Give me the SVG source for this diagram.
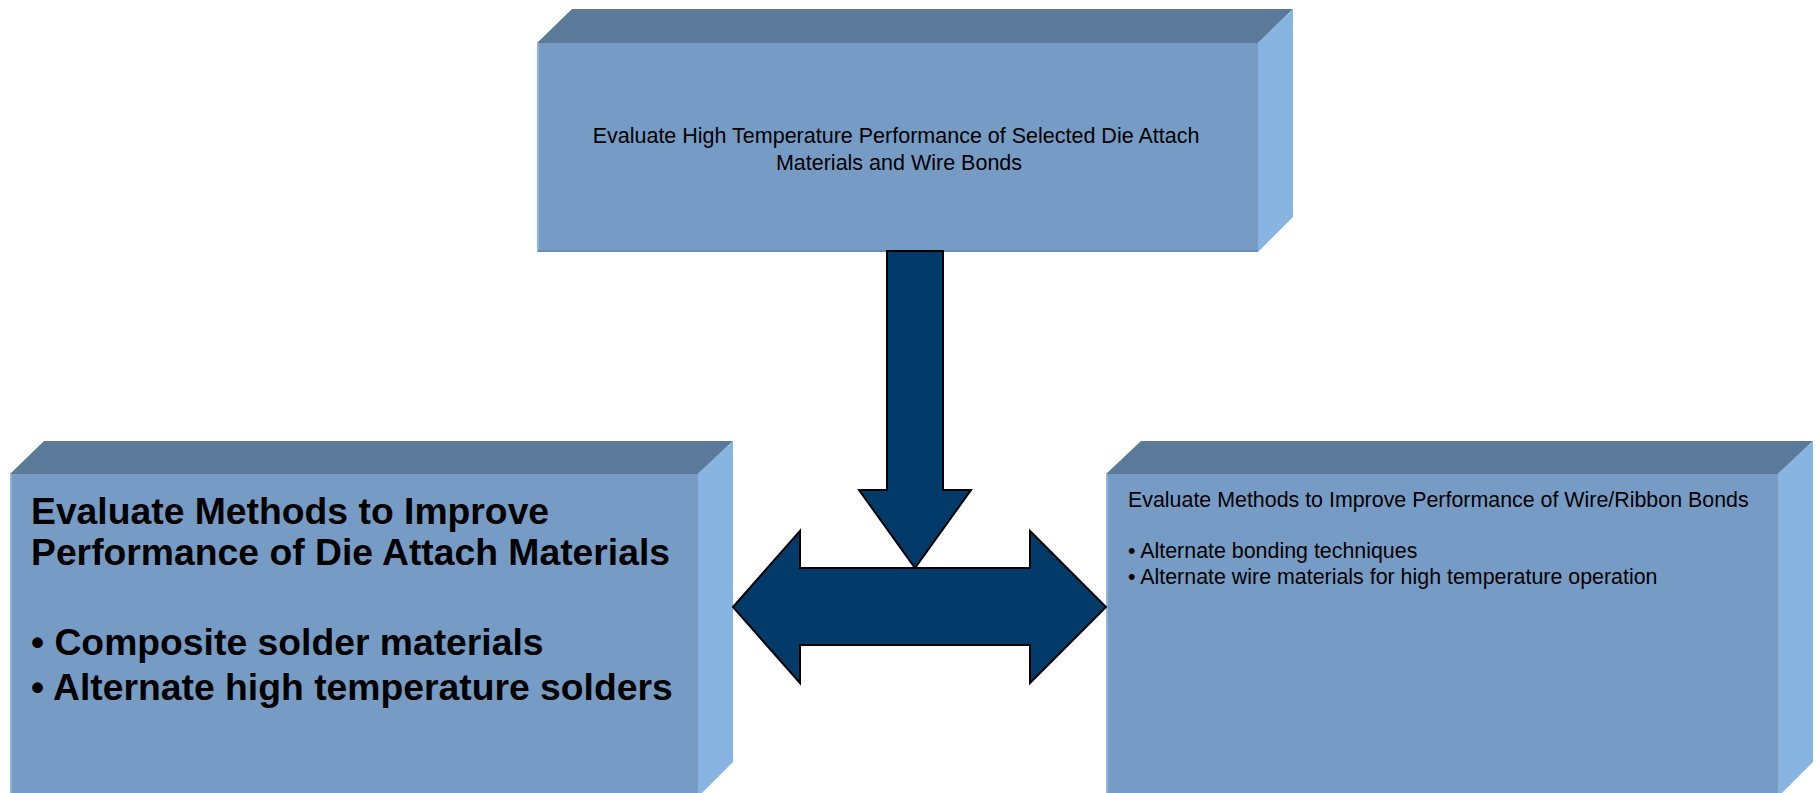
<svg xmlns="http://www.w3.org/2000/svg" width="1820" height="793" viewBox="0 0 1820 793">
  <style>
    .front { fill: #769CC6; }
    .top { fill: #5B7A9A; }
    .side { fill: #88B4E2; }
    .edgeL { stroke: #8DB5DF; stroke-width: 2; }
    .edgeB { stroke: #6A8DB3; stroke-width: 2; }
    .arrow { fill: #023B69; stroke: #000000; stroke-width: 2; stroke-linejoin: miter; }
    .txt { font-family: "Liberation Sans", Arial, sans-serif; fill: #000000; }
    .small { font-size: 21.5px; }
    .smallr { font-size: 21.4px; }
    .big { font-size: 37.3px; font-weight: bold; }
  </style>
  <rect x="0" y="0" width="1820" height="793" fill="#FFFFFF"/>

  <g id="node-top">
    <polygon class="top" points="537,43 572,9 1293,9 1258,43"/>
    <polygon class="side" points="1258,43 1293,9 1293,217 1258,252"/>
    <rect class="front" x="537" y="43" width="721" height="209"/>
    <line class="edgeL" x1="538" y1="43" x2="538" y2="252"/>
    <line class="edgeB" x1="538" y1="251" x2="1258" y2="251"/>
    <text class="txt small" text-anchor="middle">
      <tspan x="899" y="143">Evaluate High Temperature Performance of Selected Die Attach</tspan>
      <tspan x="899" y="170">Materials and Wire Bonds</tspan>
    </text>
  </g>

  <g id="node-left">
    <polygon class="top" points="10,474 44,441 733,441 698,474"/>
    <polygon class="side" points="698,474 733,441 733,762 698,797"/>
    <rect class="front" x="10" y="474" width="688" height="330"/>
    <line class="edgeL" x1="11" y1="474" x2="11" y2="793"/>
    <text class="txt big">
      <tspan x="31" y="524">Evaluate Methods to Improve</tspan>
      <tspan x="31" y="565">Performance of Die Attach Materials</tspan>
      <tspan x="31" y="655">• Composite solder materials</tspan>
      <tspan x="31" y="700">• Alternate high temperature solders</tspan>
    </text>
  </g>

  <g id="node-right">
    <polygon class="top" points="1106,474 1141,441 1813,441 1778,474"/>
    <polygon class="side" points="1778,474 1813,441 1813,762 1778,797"/>
    <rect class="front" x="1106" y="474" width="672" height="330"/>
    <line class="edgeL" x1="1107" y1="474" x2="1107" y2="793"/>
    <text class="txt smallr">
      <tspan x="1128" y="507">Evaluate Methods to Improve Performance of Wire/Ribbon Bonds</tspan>
      <tspan x="1128" y="558">• Alternate bonding techniques</tspan>
      <tspan x="1128" y="584">• Alternate wire materials for high temperature operation</tspan>
    </text>
  </g>

  <g id="connectors">
    <polygon class="arrow" points="887,251 943,251 943,490 971,490 915,568 859,490 887,490"/>
    <polygon class="arrow" points="733,607 800,531 800,568 1030,568 1030,531 1106,607 1030,683 1030,645 800,645 800,683"/>
  </g>
</svg>
